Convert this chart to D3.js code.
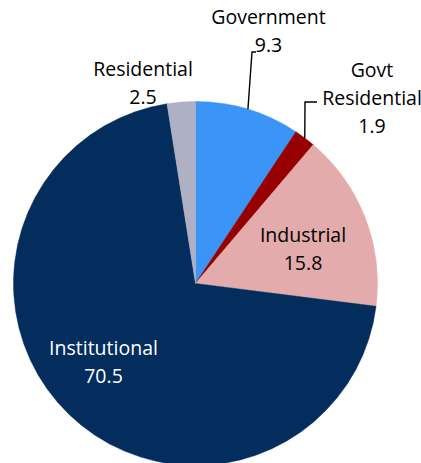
<!DOCTYPE html>
<html>
<head>
<meta charset="utf-8">
<script src="https://cdn.jsdelivr.net/npm/d3@7"></script>
<style>
  body { margin: 0; background: #fff; }
  text { font-family: "Open Sans", Lato, sans-serif; font-size: 19.5px; }
</style>
</head>
<body>
<svg id="chart" width="421" height="463"></svg>
<script>
// data
const categories = ['Government', 'Govt Residential', 'Industrial', 'Institutional', 'Residential'];
const values = [9.3, 1.9, 15.8, 70.5, 2.5];
const colors = ['#3a95f7', '#960000', '#e3abab', '#032d5c', '#aeb1c3'];

// label layout: text lines, anchor (first baseline), colour, leader line end (null = inside)
const labelLines = [['Government', '9.3'], ['Govt', 'Residential', '1.9'], ['Industrial', '15.8'], ['Institutional', '70.5'], ['Residential', '2.5']];
const labelPos = [[268.5, 24], [372, 77], [303, 242], [103.5, 355], [143, 76]];
const labelColor = ['#000', '#000', '#000', '#fff', '#000'];
const leaderEnds = [[[252, 52], [256, 52]], [[305, 102], [317, 102]], null, null, null];

const width = 421, height = 463;
const cx = 195.5, cy = 283.5, radius = 182;
const lineH = 28;

const svg = d3.select('#chart');
const g = svg.append('g').attr('transform', 'translate(' + cx + ',' + cy + ')');

const pie = d3.pie().sort(null).value(d => d.value);
const arc = d3.arc().innerRadius(0).outerRadius(radius);
const arcs = pie(categories.map((c, i) => ({ name: c, value: values[i] })));

g.selectAll('path.slice')
  .data(arcs)
  .enter()
  .append('path')
  .attr('class', 'slice')
  .attr('d', arc)
  .attr('fill', (d, i) => colors[i])
  .attr('stroke', (d, i) => colors[i])
  .attr('stroke-width', 0.5);

// leader lines start on the rim at the slice's middle angle
arcs.forEach(function (d, i) {
  if (!leaderEnds[i]) return;
  const mid = (d.startAngle + d.endAngle) / 2;
  const start = [cx + radius * Math.sin(mid), cy - radius * Math.cos(mid)];
  const pts = [start].concat(leaderEnds[i]);
  svg.append('path')
    .attr('d', d3.line()(pts))
    .attr('fill', 'none')
    .attr('stroke', '#000')
    .attr('stroke-width', 1.4);
});

// labels
labelLines.forEach(function (lines, i) {
  const t = svg.append('text')
    .attr('text-anchor', 'middle')
    .attr('fill', labelColor[i]);
  lines.forEach(function (s, j) {
    t.append('tspan')
      .attr('x', labelPos[i][0])
      .attr('y', labelPos[i][1] + j * lineH)
      .text(s);
  });
});
</script>
</body>
</html>
